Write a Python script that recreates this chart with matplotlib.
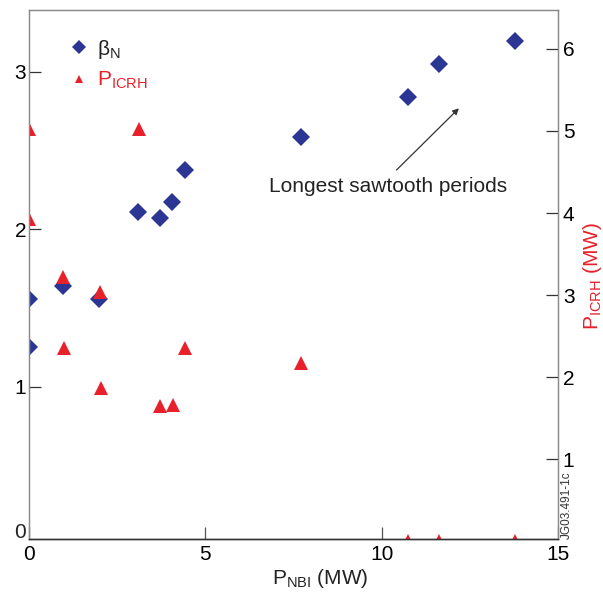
import numpy as np
import matplotlib
matplotlib.use('Agg')
import matplotlib.pyplot as plt
from matplotlib.lines import Line2D

plt.rcParams['font.family'] = ['Liberation Sans', 'DejaVu Sans']
plt.rcParams['mathtext.fontset'] = 'custom'
plt.rcParams['mathtext.rm'] = 'Liberation Sans'
plt.rcParams['mathtext.it'] = 'Liberation Sans:italic'

# beta_N (left axis) vs NBI power
pnbi_beta = [0, 0, 0.96, 1.98, 3.08, 3.71, 4.06, 4.42, 7.71, 10.75, 11.63, 13.78]
beta_n = [1.56, 1.25, 1.64, 1.555, 2.11, 2.07, 2.175, 2.375, 2.585, 2.84, 3.05, 3.195]

# P_ICRH (right axis) vs NBI power
pnbi_icrh = [0, 0, 0.97, 1.0, 2.0, 2.04, 3.12, 3.71, 4.07, 4.43, 7.71, 10.75, 11.63, 13.78]
p_icrh = [5.02, 3.93, 3.22, 2.35, 3.04, 1.865, 5.02, 1.65, 1.66, 2.35, 2.17, 0, 0, 0]

blue = '#2b3594'
red = '#e8202a'
grey = '#8a8a8a'

fig = plt.figure(figsize=(6.03, 5.92), dpi=100)
ax = fig.add_axes([29/603, 1-539.3/592, 529/603, 529.3/592])
ax2 = ax.twinx()

ax.plot(pnbi_beta, beta_n, ls='none', marker='D', ms=8.7, mew=0, color=blue)
ax2.plot(pnbi_icrh, p_icrh, ls='none', marker='^', ms=9.8, mew=0, color=red)

ax.set_xlim(0, 15)
ax.set_ylim(0.032, 3.392)
ax2.set_ylim(0.022, 6.475)
ax.set_xticks([0, 5, 10, 15])
ax.set_yticks([1, 2, 3])
ax2.set_yticks([1, 2, 3, 4, 5, 6])

ax.tick_params(axis='y', direction='in', length=8.6, width=0.9, color='#333333',
               labelsize=15, pad=2)
ax.tick_params(axis='x', direction='in', length=8.6, width=0.9, color='#555555',
               labelsize=15, pad=4)
ax2.tick_params(axis='y', direction='in', length=8.6, width=0.9, color='#333333',
                labelsize=15, pad=3.5)

for a in (ax, ax2):
    for s in ('top', 'left', 'right'):
        a.spines[s].set_color(grey)
        a.spines[s].set_linewidth(0.9)
    a.spines['bottom'].set_color('#333333')
    a.spines['bottom'].set_linewidth(1.0)

# lone "0" on left axis
ax.text(-0.006, 0.012, '0', transform=ax.transAxes, ha='right', va='center',
        fontsize=15, color='#222222')

ax.set_xlabel('P$_\\mathrm{NBI}$ (MW)', fontsize=15, color='#222222')
ax.xaxis.set_label_coords(0.55, -0.053)
ax2.set_ylabel('P$_\\mathrm{ICRH}$ (MW)', fontsize=15, color=red, rotation=90)
ax2.yaxis.set_label_coords(1.043, 0.498)

ax.annotate('', xy=(12.19, 2.768), xytext=(10.42, 2.376),
            arrowprops=dict(arrowstyle='-|>', color='#333333', lw=0.9,
                            mutation_scale=9, shrinkA=0, shrinkB=0))
ax.text(10.19, 2.274, 'Longest sawtooth periods', fontsize=15, color='#222222',
        ha='center', va='center')

ax2.text(1.006, 0.0, 'JG03.491-1c', transform=ax2.transAxes, rotation=90,
         fontsize=8.5, color='#333333', ha='left', va='bottom')

handles = [Line2D([], [], ls='none', marker='D', ms=6.8, mew=0, color=blue),
           Line2D([], [], ls='none', marker='^', ms=6, mew=0, color=red)]
leg = ax2.legend(handles, ['β$_\\mathrm{N}$', 'P$_\\mathrm{ICRH}$'],
                 loc='upper left', bbox_to_anchor=(0.075, 0.948), frameon=False,
                 fontsize=15, handlelength=1, handletextpad=0.36,
                 labelspacing=0.45, borderpad=0, borderaxespad=0)
leg.get_texts()[0].set_color('#222222')
leg.get_texts()[1].set_color(red)

plt.savefig('out.png', dpi=100)
